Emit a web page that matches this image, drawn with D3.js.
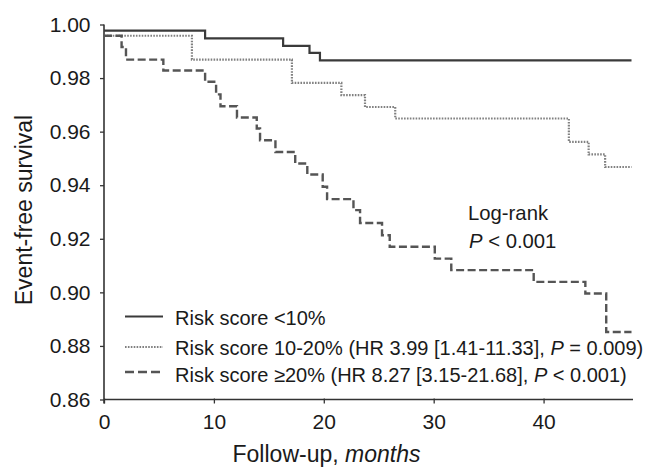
<!DOCTYPE html>
<html>
<head>
<meta charset="utf-8">
<script src="https://cdn.jsdelivr.net/npm/d3@7"></script>
<style>
  html, body { margin: 0; padding: 0; background: #fff; }
  svg { display: block; }
  text { font-family: "Liberation Sans", Arial, Helvetica, sans-serif; fill: #1a1a1a; }
</style>
</head>
<body>
<svg id="chart" width="647" height="467"></svg>
<script>
// ---- Data ----
const xTicks = [0, 10, 20, 30, 40];
const yTicks = [0.86, 0.88, 0.90, 0.92, 0.94, 0.96, 0.98, 1.00];

const lowTimes = [0, 9.2, 16.3, 18.7, 19.65, 48];
const lowSurv  = [0.9977, 0.9948, 0.9920, 0.9894, 0.9866, 0.9866];

const midTimes = [0, 8.0, 17.1, 21.6, 23.75, 26.5, 42.3, 44.1, 45.6, 48];
const midSurv  = [0.9958, 0.9869, 0.9782, 0.9736, 0.9692, 0.9649, 0.9562, 0.9515, 0.9468, 0.9468];

const highTimes = [0, 1.6, 2.0, 5.4, 9.2, 10.2, 10.6, 12.1, 13.9, 14.2, 15.6, 17.4, 18.5, 19.9, 20.3,
                   22.7, 23.3, 25.3, 26.0, 30.1, 31.6, 39.1, 43.8, 45.7, 48];
const highSurv  = [0.9958, 0.9916, 0.9869, 0.9828, 0.9786, 0.9739, 0.9695, 0.9653, 0.9612, 0.9568,
                   0.9524, 0.9481, 0.9440, 0.9394, 0.9348, 0.9307, 0.9259, 0.9213, 0.9170, 0.9126,
                   0.9083, 0.9039, 0.8996, 0.8852, 0.8852];

const seriesNames = ["low", "mid", "high"];

// ---- Layout ----
const svg = d3.select("#chart");
const x = d3.scaleLinear().domain([0, 48]).range([104, 631.5]);
const y = d3.scaleLinear().domain([0.86, 1.00]).range([399.5, 24.5]);

const axisColor = "#333";

// Axes
const xAxis = svg.append("g")
  .attr("transform", `translate(0,${y(0.86)})`)
  .call(d3.axisBottom(x).tickValues(xTicks).tickSize(4).tickPadding(11).tickFormat(d3.format("d")));
xAxis.select(".domain").attr("stroke", axisColor).attr("stroke-width", 1.6).attr("d", `M104,0H633`);
xAxis.selectAll(".tick line").attr("stroke", axisColor).attr("stroke-width", 1.3).attr("y1", -1);
xAxis.selectAll(".tick text").attr("font-size", 21).attr("fill", "#1a1a1a")
  .style("font-family", '"Liberation Sans", Arial, sans-serif');

const yAxis = svg.append("g")
  .attr("transform", `translate(${x(0)},0)`)
  .call(d3.axisLeft(y).tickValues(yTicks).tickSize(4).tickPadding(9.5).tickFormat(d3.format(".2f")));
yAxis.select(".domain").attr("stroke", axisColor).attr("stroke-width", 1.6)
  .attr("d", `M0,${y(1.00)}V${y(0.86) + 4}`);
yAxis.selectAll(".tick line").attr("stroke", axisColor).attr("stroke-width", 1.3);
yAxis.selectAll(".tick text").attr("font-size", 21).attr("fill", "#1a1a1a")
  .style("font-family", '"Liberation Sans", Arial, sans-serif');

// Axis titles
svg.append("text")
  .attr("transform", "translate(31.5,210) rotate(-90)")
  .attr("text-anchor", "middle")
  .attr("font-size", 23)
  .text("Event-free survival");

const xt = svg.append("text")
  .attr("x", 326.5).attr("y", 462)
  .attr("text-anchor", "middle")
  .attr("font-size", 23);
xt.append("tspan").text("Follow-up, ");
xt.append("tspan").attr("font-style", "italic").text("months");

// Curves
const styles = {
  low:  { stroke: "#3a3a3a", width: 2.2, dash: null },
  mid:  { stroke: "#808080", width: 2.2, dash: "1.6,1.3" },
  high: { stroke: "#555555", width: 2.4, dash: "8,3.5" }
};
const seriesData = {
  low:  lowTimes.map((t, i) => [t, lowSurv[i]]),
  mid:  midTimes.map((t, i) => [t, midSurv[i]]),
  high: highTimes.map((t, i) => [t, highSurv[i]])
};
const line = d3.line().x(d => x(d[0])).y(d => y(d[1])).curve(d3.curveStepAfter);

seriesNames.forEach(name => {
  const s = styles[name];
  svg.append("path")
    .datum(seriesData[name])
    .attr("fill", "none")
    .attr("stroke", s.stroke)
    .attr("stroke-width", s.width)
    .attr("stroke-dasharray", s.dash)
    .attr("d", line);
});

// Log-rank annotation
svg.append("text").attr("x", 468).attr("y", 220).attr("font-size", 20.3).text("Log-rank");
const lr = svg.append("text").attr("x", 469).attr("y", 248).attr("font-size", 20.3);
lr.append("tspan").attr("font-style", "italic").text("P");
lr.append("tspan").text(" < 0.001");

// Legend
const legendRows = [
  { key: "low",  lineY: 316.5, baseY: 325,   parts: [["Risk score <10%", false]] },
  { key: "mid",  lineY: 347,   baseY: 355,   parts: [["Risk score 10-20% (HR 3.99 [1.41-11.33], ", false], ["P", true], [" = 0.009)", false]] },
  { key: "high", lineY: 372,   baseY: 381.5, parts: [["Risk score \u226520% (HR 8.27 [3.15-21.68], ", false], ["P", true], [" < 0.001)", false]] }
];
legendRows.forEach(r => {
  const s = styles[r.key];
  svg.append("line")
    .attr("x1", 125).attr("x2", 163)
    .attr("y1", r.lineY).attr("y2", r.lineY)
    .attr("stroke", s.stroke)
    .attr("stroke-width", s.width)
    .attr("stroke-dasharray", r.key === "high" ? "9,4" : s.dash);
  const t = svg.append("text").attr("x", 175).attr("y", r.baseY).attr("font-size", 20);
  r.parts.forEach(p => {
    const ts = t.append("tspan").text(p[0]);
    if (p[1]) ts.attr("font-style", "italic");
  });
});
</script>
</body>
</html>
